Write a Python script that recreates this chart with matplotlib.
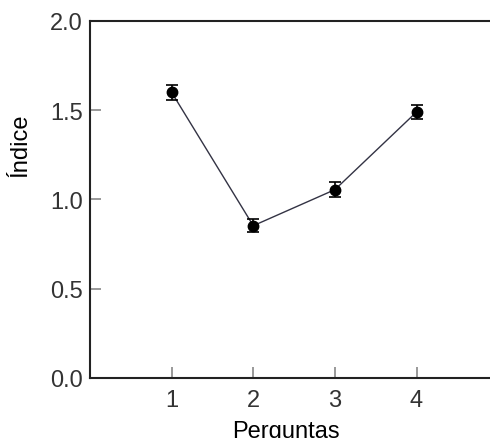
import matplotlib
matplotlib.use('Agg')
import matplotlib.pyplot as plt

plt.rcParams['font.family'] = ['Liberation Sans', 'DejaVu Sans']

perguntas = [1, 2, 3, 4]
indice = [1.60, 0.853, 1.055, 1.49]
erro = [0.043, 0.037, 0.043, 0.040]
xticks = [1, 2, 3, 4]
yticks = [0.0, 0.5, 1.0, 1.5, 2.0]

fig = plt.figure(figsize=(4.9, 4.39), dpi=100)
ax = fig.add_axes([0.1837, 0.1367, 0.8163, 0.8133])

ax.errorbar(perguntas, indice, yerr=erro, fmt='o', color='black',
            ms=7.5, elinewidth=1.2, capsize=4, capthick=1.2, zorder=3)
ax.plot(perguntas, indice, '-', color='#333344', lw=1.0, zorder=2)

ax.set_xlim(0, 4.9)
ax.set_ylim(0, 2.0)
ax.set_xticks(xticks)
ax.set_yticks(yticks)
ax.set_yticklabels([f'{v:.1f}' for v in yticks])

for side in ['left', 'bottom', 'top']:
    ax.spines[side].set_linewidth(1.5)
    ax.spines[side].set_color('#222222')
ax.spines['right'].set_visible(False)

ax.tick_params(direction='in', length=8, width=1.2, color='#888888',
               labelsize=17, labelcolor='#333333')
ax.tick_params(axis='x', pad=8)
ax.tick_params(axis='y', pad=5)

ax.set_xlabel('Perguntas', fontsize=17)
ax.set_ylabel('Índice', fontsize=17)
ax.xaxis.set_label_coords(0.49, -0.118)
ax.yaxis.set_label_coords(-0.146, 0.655)

fig.savefig('out.png', dpi=100)
